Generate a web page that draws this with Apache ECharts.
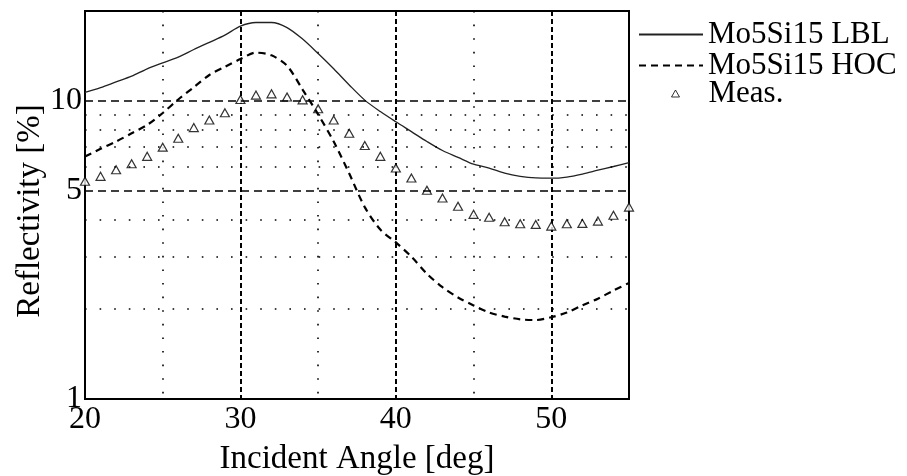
<!DOCTYPE html>
<html>
<head>
<meta charset="utf-8">
<script src="https://cdn.jsdelivr.net/npm/echarts@6/dist/echarts.min.js"></script>
<style>html,body{margin:0;padding:0;background:#fff}#c{width:907px;height:476px}</style>
</head>
<body>
<div id="c"></div>
<script>
var angles = [20,21,22,23,24,25,26,27,28,29,30,31,32,33,34,35,36,37,38,39,40,41,42,43,44,45,46,47,48,49,50,51,52,53,54,55];
var lbl = [10.66,11.07,11.57,12.09,12.8,13.4,14.0,14.86,15.7,16.6,17.8,18.3,18.3,17.6,16.1,14.4,12.8,11.3,10.05,9.2,8.5,7.88,7.3,6.81,6.46,6.13,5.95,5.72,5.58,5.51,5.5,5.55,5.68,5.85,6.02,6.2];
var hoc = [6.5,6.9,7.3,7.78,8.3,9.1,10.1,11.1,12.2,13.0,13.8,14.5,14.2,13.1,10.9,9.0,7.3,5.7,4.4,3.7,3.35,3.0,2.63,2.37,2.19,2.06,1.95,1.89,1.85,1.84,1.88,1.95,2.06,2.17,2.31,2.45];
var meas = [5.37,5.58,5.87,6.15,6.51,6.99,7.49,8.13,8.62,9.12,10.1,10.45,10.55,10.3,10.07,9.4,8.62,7.78,7.08,6.51,5.95,5.51,5.01,4.72,4.43,4.16,4.07,3.93,3.87,3.85,3.80,3.87,3.88,3.95,4.13,4.4];
var yTickLabels = [1,5,10];
var majorGridY = [5,10];
var minorGridY = [2,3,4,6,7,8,9];
var seriesNames = ['Mo5Si15 LBL','Mo5Si15 HOC','Meas.'];

function pairs(ys){ return angles.map(function(a,i){ return [a, ys[i]]; }); }
var FONT = 'Liberation Serif';

var chart = echarts.init(document.getElementById('c'), null, {renderer:'canvas'});
var gridLines = [];
majorGridY.forEach(function(v){ gridLines.push({yAxis:v, lineStyle:{type:[8,5], width:1.5, color:'#000'}}); });
minorGridY.forEach(function(v){ gridLines.push({yAxis:v, lineStyle:{type:[1.6,13], width:1.6, color:'#000'}}); });

chart.setOption({
  animation:false,
  backgroundColor:'#fff',
  grid:{left:85, right:278, top:11, bottom:77, show:true, borderColor:'#000', borderWidth:2,
        backgroundColor:'transparent', containLabel:false, outerBoundsMode:'none'},
  legend:[{
    orient:'vertical', left:633, top:14, itemWidth:64, itemHeight:8, itemGap:0,
    textStyle:{fontFamily:FONT, fontSize:31, color:'#000'},
    data:[{name:seriesNames[0]},{name:seriesNames[1]}]
  },{
    orient:'vertical', left:666, top:73, itemWidth:8, itemHeight:7,
    textStyle:{fontFamily:FONT, fontSize:31, color:'#000', padding:[0,0,0,24]},
    data:[{name:seriesNames[2], icon:'triangle', itemStyle:{color:'#fff', borderColor:'#000', borderWidth:1}}]
  }],
  xAxis:{
    type:'value', min:20, max:55, interval:10,
    name:'Incident Angle [deg]', nameLocation:'middle', nameGap:44, nameMoveOverlap:false,
    nameTextStyle:{fontFamily:FONT, fontSize:33, color:'#000'},
    axisLine:{show:false}, axisTick:{show:false},
    axisLabel:{fontFamily:FONT, fontSize:32, color:'#000', margin:5, showMaxLabel:false},
    splitLine:{show:true, lineStyle:{type:[5,3], width:2, color:'#000'}},
    minorTick:{show:false, splitNumber:2},
    minorSplitLine:{show:true, lineStyle:{type:[1.6,12], width:1.6, color:'#000'}}
  },
  yAxis:{
    type:'log', logBase:10, min:1, max:20,
    name:'Reflectivity [%]', nameLocation:'middle', nameRotate:90, nameGap:38, nameMoveOverlap:false,
    nameTextStyle:{fontFamily:FONT, fontSize:33, color:'#000', padding:[0,12,0,0]},
    axisLine:{show:false}, axisTick:{show:false},
    axisLabel:{fontFamily:FONT, fontSize:32, color:'#000', margin:3, padding:[0,0,10,0], customValues:yTickLabels},
    splitLine:{show:false}
  },
  series:[
    {name:'grid', type:'line', data:[], silent:true,
     markLine:{silent:true, symbol:'none', label:{show:false}, data:gridLines}},
    {name:seriesNames[0], type:'line', data:pairs(lbl), symbol:'none', smooth:0.3,
     lineStyle:{color:'#222', width:1.3}, itemStyle:{color:'rgba(0,0,0,0)'}},
    {name:seriesNames[1], type:'line', data:pairs(hoc), symbol:'none', smooth:0.3,
     lineStyle:{color:'#000', width:2.2, type:[7,5]}, itemStyle:{color:'rgba(0,0,0,0)'}},
    {name:seriesNames[2], type:'scatter', data:pairs(meas), symbol:'triangle', symbolSize:[9,8],
     itemStyle:{color:'#fff', borderColor:'#000', borderWidth:1.2}}
  ]
});
</script>
</body>
</html>
